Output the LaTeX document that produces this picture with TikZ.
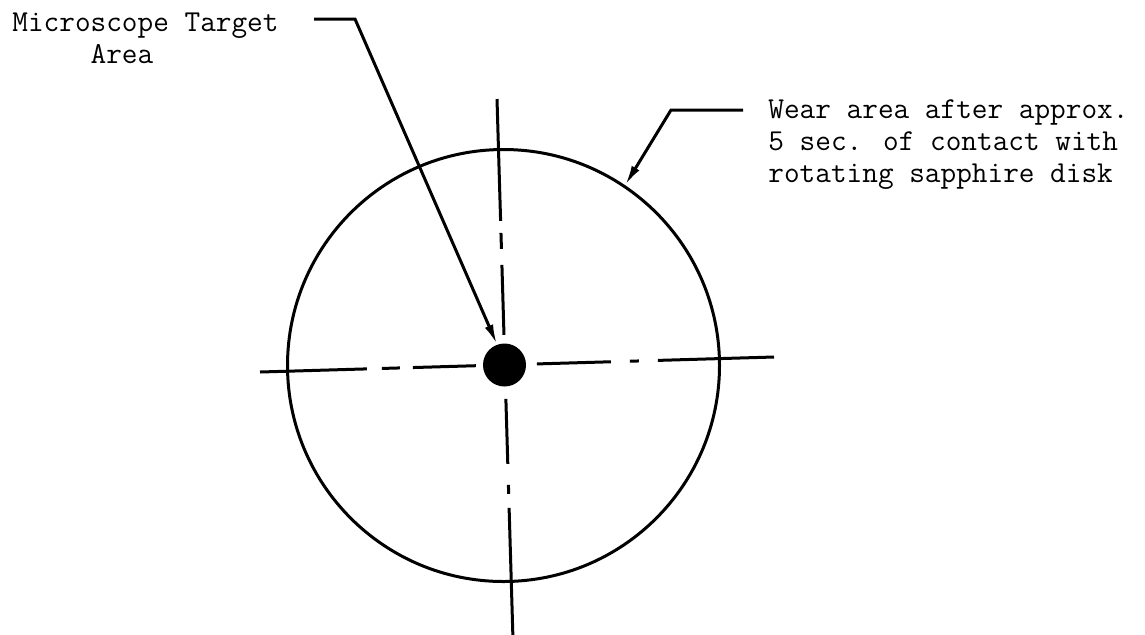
\documentclass[tikz,border=0pt]{standalone}
\usepackage{tikz}
\usetikzlibrary{arrows.meta}

\begin{document}
\begin{tikzpicture}[x=0.5pt, y=-0.5pt, >={Latex[length=10pt,width=4.4pt]},
  font=\ttfamily\fontsize{15.2}{16}\selectfont,
  ink/.style={line width=1.5pt},
  note/.style={anchor=base west, inner sep=0pt, align=left},
  leader/.style={ink, ->, line join=miter},
  hcenter/.style={ink, dash pattern=on 53.5pt off 7.5pt on 9pt off 6.5pt on 31.5pt off 30.5pt
    on 37pt off 9.5pt on 4.5pt off 9.5pt on 62pt off 10pt},
  vcenter/.style={ink, dash pattern=on 61pt off 6pt on 8pt off 8pt on 35pt off 32pt
    on 32.5pt off 10.5pt on 4.5pt off 7pt on 65pt off 10pt}]

  \useasboundingbox (0,0) rectangle (1145,634);

  % ---- centre lines ----
  \coordinate (hl) at (260,372);
  \coordinate (hr) at (774,357);
  \coordinate (vt) at (497,99);
  \coordinate (vb) at (513,640);
  \draw[hcenter] (hl) -- (hr);
  \draw[vcenter] (vt) -- (vb);

  % ---- wear circle and target spot ----
  \node[circle, draw, ink, minimum size=216pt, inner sep=0pt] (disk) at (503.5,365.5) {};
  \node[circle, fill, minimum size=21.5pt, inner sep=0pt] (target) at (504.5,365) {};

  % ---- labels (base = last line) ----
  \node[note] (mtext) at (12,63) {Microscope Target\\\phantom{Micro}Area};
  \node[note] (wtext) at (768,182)
    {Wear area after approx.\\5 sec. of contact with\\rotating sapphire disk};

  % ---- leaders ----
  \coordinate (mstart) at (314,19);
  \coordinate (mknee) at (355,19);
  \draw[leader] (mstart) -- (mknee) -- (target.110);

  \coordinate (wstart) at (743,110);
  \coordinate (wknee) at (671,110);
  \draw[leader] (wstart) -- (wknee) -- (disk.56.5);

\end{tikzpicture}
\end{document}
